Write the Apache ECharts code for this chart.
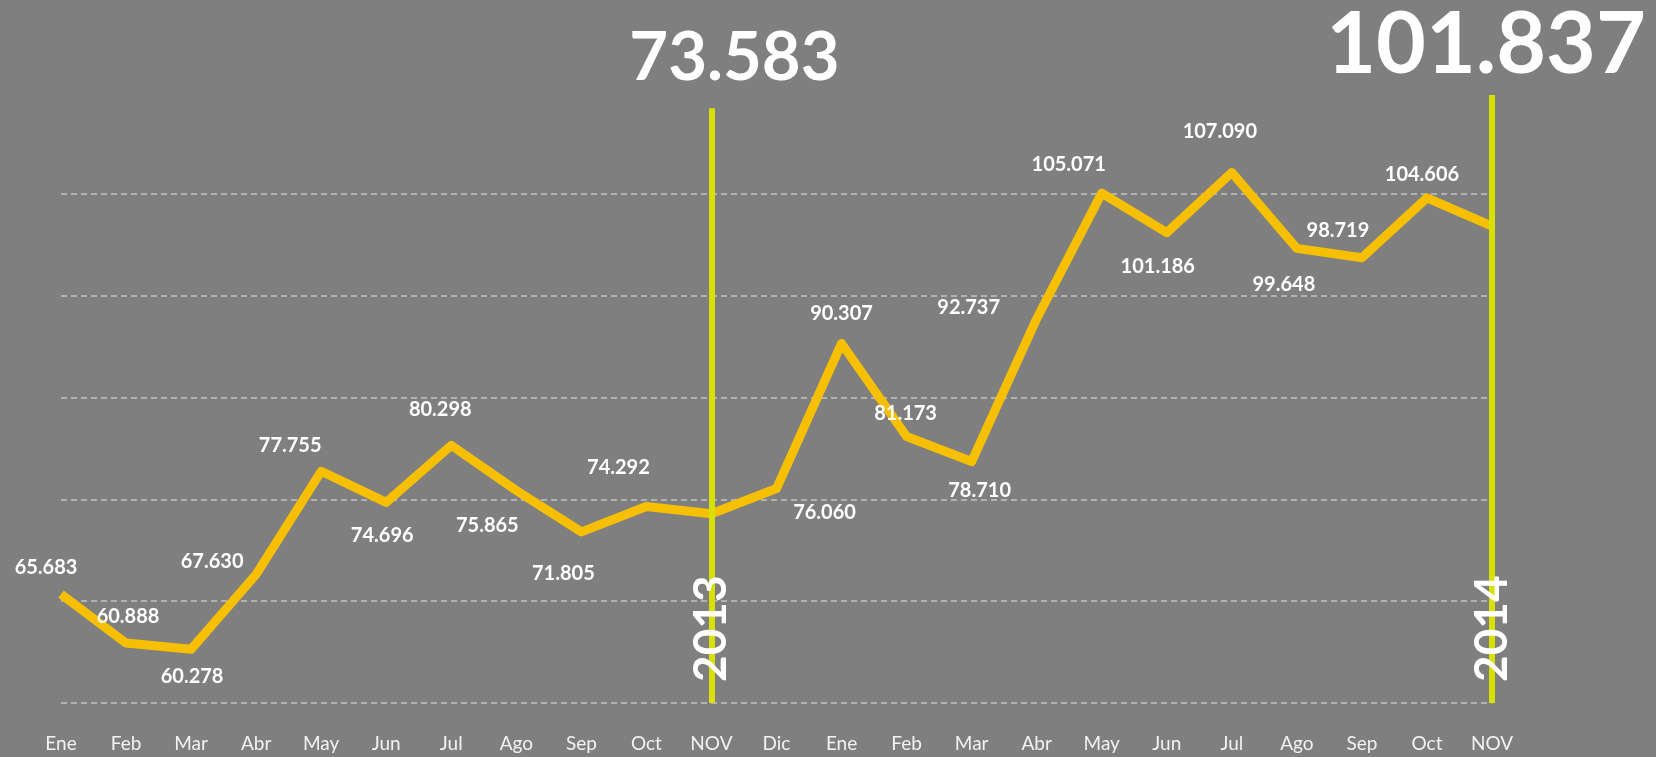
<!DOCTYPE html>
<html lang="es">
<head>
    <meta charset="UTF-8">
    <title>Evolución mensual 2013-2014</title>
    <script src="https://cdn.jsdelivr.net/npm/echarts@6/dist/echarts.min.js"></script>
    <style>
        html, body {
            margin: 0;
            padding: 0;
            background-color: #7f7f7f;
        }
        #chart {
            width: 1656px;
            height: 757px;
        }
    </style>
</head>
<body>
<div id="chart"></div>

<script>
    // meses (ene 2013 - nov 2014)
    var months = ['Ene', 'Feb', 'Mar', 'Abr', 'May', 'Jun', 'Jul', 'Ago', 'Sep', 'Oct', 'NOV', 'Dic',
                  'Ene', 'Feb', 'Mar', 'Abr', 'May', 'Jun', 'Jul', 'Ago', 'Sep', 'Oct', 'NOV'];
    var values = [65.683, 60.888, 60.278, 67.630, 77.755, 74.696, 80.298, 75.865, 71.805, 74.292, 73.583, 76.060,
                  90.307, 81.173, 78.710, 92.737, 105.071, 101.186, 107.090, 99.648, 98.719, 104.606, 101.837];
    var years = ['2013', '2014'];
    var yearIndex = [10, 22];
    var yMin = 55, yMax = 115, yStep = 10;

    // desplazamiento de cada etiqueta respecto a su punto (como en el original)
    var labelShift = [
        [-15, -27], [2, -26], [1, 27], [-44, -13], [-31, -26], [-4, 33], [-11, -36], [-29, 35],
        [-18, 42], [-28, -39], [23, -455], [48, 24], [0, -30], [-1, -23], [8, 29], [-68, -11],
        [-33, -29], [-9, 34], [-12, -41], [-13, 36], [-24, -27], [-5, -23], [-6, -181]
    ];
    var bigSize = {10: 67, 22: 86};

    function fmt(v) {
        return v.toFixed(3);
    }

    var chart = echarts.init(document.getElementById('chart'));

    var seriesData = values.map(function (v, i) {
        var big = bigSize[i];
        return {
            value: v,
            label: {
                offset: labelShift[i],
                fontSize: big || 20,
                fontWeight: 'bold'
            }
        };
    });

    var markData = years.map(function (y, k) {
        return [
            {name: y, xAxis: yearIndex[k], yAxis: yMin},
            {xAxis: yearIndex[k], yAxis: k === 0 ? 113.4 : 114.7}
        ];
    });

    var option = {
        backgroundColor: '#7f7f7f',
        animation: false,
        grid: {
            left: 61,
            right: 164,
            top: 92,
            bottom: 54,
            containLabel: false
        },
        xAxis: {
            type: 'category',
            data: months,
            boundaryGap: false,
            axisLine: {show: false},
            axisTick: {show: false},
            axisLabel: {
                color: '#f2f2f2',
                fontFamily: 'Lato',
                fontSize: 19,
                margin: 31,
                interval: 0
            },
            splitLine: {show: false}
        },
        yAxis: {
            type: 'value',
            min: yMin,
            max: yMax,
            interval: yStep,
            axisLine: {show: false},
            axisTick: {show: false},
            axisLabel: {show: false},
            splitLine: {
                show: true,
                showMaxLine: false,
                lineStyle: {
                    color: '#c4c4c4',
                    width: 1.5,
                    type: [6, 4]
                }
            }
        },
        series: [
            {
                type: 'line',
                data: seriesData,
                clip: false,
                symbol: 'circle',
                symbolSize: 1,
                itemStyle: {color: 'rgba(0,0,0,0)'},
                lineStyle: {
                    color: '#f6c000',
                    width: 9,
                    join: 'round'
                },
                label: {
                    show: true,
                    position: 'inside',
                    color: '#ffffff',
                    fontFamily: 'Lato',
                    formatter: function (p) {
                        return fmt(p.value);
                    }
                },
                emphasis: {disabled: true},
                markLine: {
                    silent: true,
                    symbol: ['none', 'none'],
                    lineStyle: {
                        color: '#d8e000',
                        width: 6,
                        type: 'solid'
                    },
                    label: {
                        show: true,
                        position: 'insideStart',
                        distance: [21, 0],
                        formatter: '{b}',
                        color: '#ffffff',
                        fontFamily: 'Lato',
                        fontWeight: 'bold',
                        fontSize: 46
                    },
                    data: markData
                }
            }
        ]
    };

    chart.setOption(option);
</script>
</body>
</html>
